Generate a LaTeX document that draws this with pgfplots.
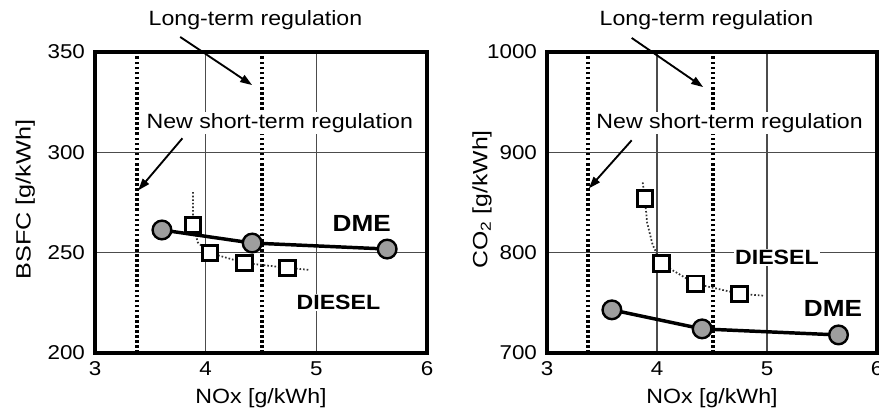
\documentclass[border=0pt]{standalone}
\usepackage{graphicx}
\usepackage{pgfplots}
\pgfplotsset{compat=1.18}
\usepackage{fontspec}
\setmainfont{Liberation Sans}
\usetikzlibrary{arrows.meta}
\newcommand{\fs}[1]{\fontsize{#1}{#1}\selectfont}
\newcommand{\sx}[1]{\scalebox{1.12}[1]{#1}}
\tikzset{
  ann/.style={font=\fs{15.5}},
  arr/.style={-{Triangle[length=9pt,width=6pt]}, line width=1.4pt, black},
}
\pgfplotsset{
  myax/.style={
    scale only axis, clip=false,
    xmin=3, xmax=6, xtick={3,4,5,6},
    grid=major, major grid style={draw=black!70, line width=1.1pt},
    major tick length=0pt,
    axis line style={line width=3pt},
    /pgf/number format/assume math mode=true,
    /pgf/number format/1000 sep={},
    tick label style={font=\fs{15}},
    xticklabel={\fs{15}\sx{\pgfmathprintnumber{\tick}}},
    yticklabel={\fs{15}\sx{\pgfmathprintnumber{\tick}}},
    xticklabel style={yshift=-3pt},
    yticklabel style={xshift=-4pt},
    xlabel style={at={(axis description cs:0.5,-0.15)}, anchor=center},
    xlabel={\fs{15.5}\sx{NOx [g/kWh]}},
  },
  reg/.style={black, line width=2.8pt, dash pattern=on 2pt off 1.8pt, no marks},
  dme/.style={black, line width=2.6pt, mark=*, mark size=7pt,
    mark options={fill=black!38, draw=black, line width=1.8pt, solid}},
  dsl/.style={black!80, line width=1.3pt, dash pattern=on 1.2pt off 1.5pt, no marks},
  dslm/.style={only marks, mark=square*, mark size=5.8pt,
    mark options={fill=white, draw=black, line width=2.2pt}},
}
\begin{document}
\begin{tikzpicture}
\useasboundingbox (0,0) rectangle (659.25pt,309.75pt);
% ---------- left panel ----------
\begin{axis}[myax, at={(71.25pt,45pt)}, anchor=south west,
  width=249pt, height=225.75pt,
  ymin=200, ymax=350, ytick={200,250,300,350}]
\addplot[reg] coordinates {(3.38,200) (3.38,350)};
\addplot[reg] coordinates {(4.51,200) (4.51,350)};
\addplot[dsl] coordinates {(3.886,280.2) (3.886,263.8) (3.93,255) (4.04,249.8) (4.35,244.9) (4.74,242.4) (4.94,241.4)};
\addplot[dslm] coordinates {(3.886,263.8) (4.04,249.8) (4.35,244.9) (4.74,242.4)};
\addplot[dme] coordinates {(3.605,261.3) (4.42,254.8) (5.64,251.8)};
\node[font=\fs{15.5}, rotate=90] at (axis description cs:-0.21,0.51) {\scalebox{1.22}[1]{BSFC [g/kWh]}};
\node[ann] at (axis cs:4.45,366) {\sx{Long-term regulation}};
\node[ann, fill=white, inner sep=1pt] at (axis cs:4.67,314.5) {\sx{New short-term regulation}};
\node[font=\fs{17.5}\bfseries] at (axis cs:5.41,264.5) {\sx{DME}};
\node[font=\fs{15.5}\bfseries, fill=white, inner sep=1pt] at (axis cs:5.2,225) {\sx{DIESEL}};
\draw[arr] (axis cs:3.77,357.5) -- (axis cs:4.42,333.5);
\draw[arr] (axis cs:3.79,307) -- (axis cs:3.39,281);
\end{axis}
% ---------- right panel ----------
\begin{axis}[myax, at={(410.25pt,45pt)}, anchor=south west,
  width=247.5pt, height=225.75pt,
  ymin=700, ymax=1000, ytick={700,800,900,1000}]
\addplot[reg] coordinates {(3.37,700) (3.37,1000)};
\addplot[reg] coordinates {(4.51,700) (4.51,1000)};
\addplot[dsl] coordinates {(3.87,870) (3.89,854) (3.91,830) (3.96,808) (4.04,789) (4.35,769) (4.75,759) (4.98,757)};
\addplot[dslm] coordinates {(3.89,854) (4.04,789) (4.35,769) (4.75,759)};
\addplot[dme] coordinates {(3.59,743) (4.41,724) (5.65,718)};
\node[font=\fs{15.5}, rotate=90] at (axis description cs:-0.197,0.51) {\scalebox{1.2}[1]{CO\textsubscript{2} [g/kWh]}};
\node[ann] at (axis cs:4.45,1032) {\sx{Long-term regulation}};
\node[ann, fill=white, inner sep=1pt] at (axis cs:4.66,929) {\sx{New short-term regulation}};
\node[font=\fs{15.5}\bfseries, fill=white, inner sep=1pt] at (axis cs:5.09,795) {\sx{DIESEL}};
\node[font=\fs{17.5}\bfseries] at (axis cs:5.6,744) {\sx{DME}};
\draw[arr] (axis cs:3.77,1014) -- (axis cs:4.42,965);
\draw[arr] (axis cs:3.77,912) -- (axis cs:3.38,864);
\end{axis}
\end{tikzpicture}
\end{document}
